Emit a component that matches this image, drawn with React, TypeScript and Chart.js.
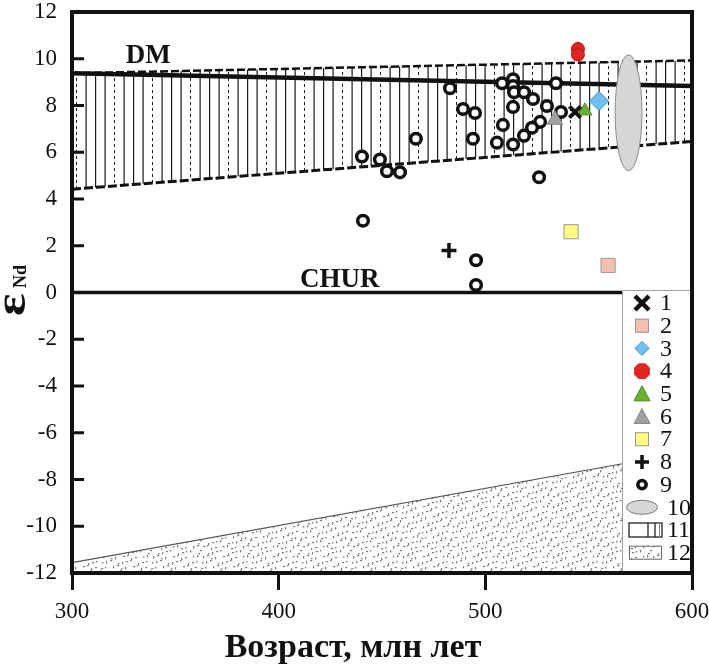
import React, { useEffect, useRef } from 'react';
import { Chart, registerables } from 'chart.js';

Chart.register(...registerables);

const W = 709;
const H = 671;

// Axes
const X_MIN = 300;
const X_MAX = 600;
const X_STEP = 100;
const Y_MIN = -12;
const Y_MAX = 12;
const Y_STEP = 2;

// Series 1..9 (age, Ma ; epsilon Nd)
const s1Age = [543.4];
const s1Eps = [7.72];
const s2Age = [559.4];
const s2Eps = [1.16];
const s3Age = [555.0];
const s3Eps = [8.19];
const s4Age = [544.8, 544.8];
const s4Eps = [10.42, 10.18];
const s5Age = [548.2];
const s5Eps = [7.77];
const s6Age = [533.7];
const s6Eps = [7.39];
const s7Age = [541.5];
const s7Eps = [2.6];
const s8Age = [482.4];
const s8Eps = [1.8];
const s9Age = [
  482.9, 489.2, 495.0, 466.4, 494.0, 508.1, 513.4, 513.4, 513.9, 518.7,
  523.1, 513.4, 529.8, 534.2, 536.6, 508.5, 526.5, 522.6, 518.7, 505.6,
  513.4, 526.0, 440.3, 449.0, 452.4, 458.7, 440.8, 495.5, 495.5,
];
const s9Eps = [
  8.74, 7.85, 7.68, 6.58, 6.58, 8.95, 9.12, 8.83, 8.57, 8.57,
  8.28, 7.94, 7.98, 8.95, 7.72, 7.17, 7.30, 7.05, 6.71, 6.41,
  6.33, 4.93, 5.82, 5.69, 5.19, 5.14, 3.07, 1.38, 0.32,
];

// Field 10 (ellipse)
const e10Age = 569.3;
const e10Eps = 7.69;
const e10HalfAge = 6.5;
const e10HalfEps = 2.48;

// DM line
const dmAge = [300, 600];
const dmEps = [9.38, 8.83];
// Field 11 boundaries
const f11Age = [300, 600];
const f11Upper = [9.38, 9.93];
const f11Lower = [4.42, 6.46];
// CHUR
const churAge = [300, 600];
const churEps = [0, 0];
// Field 12
const f12Age = [300, 600];
const f12Top = [-11.56, -6.79];

// Text labels
const dmLabel = { text: 'DM', age: 326, eps: 9.8 };
const churLabel = { text: 'CHUR', age: 410.3, eps: 0.25 };
const xTitle = 'Возраст, млн лет';
const legendLabels = ['1', '2', '3', '4', '5', '6', '7', '8', '9', '10', '11', '12'];

const SERIF = '"Liberation Serif", "Times New Roman", serif';

const zip = (a: number[], b: number[]) => a.map((x, i) => ({ x, y: b[i] }));

function makeHatch(ctx: CanvasRenderingContext2D) {
  const c = document.createElement('canvas');
  c.width = 38;
  c.height = 6;
  const g = c.getContext('2d')!;
  g.fillStyle = '#1a1a1a';
  [9.5, 19, 28.5].forEach((x) => g.fillRect(x, 0, 1.2, 6));
  g.fillRect(0, 0, 1, 3);
  return ctx.createPattern(c, 'repeat');
}

function makeStipple(ctx: CanvasRenderingContext2D) {
  const size = 50;
  const c = document.createElement('canvas');
  c.width = size;
  c.height = size;
  const g = c.getContext('2d')!;
  g.fillStyle = '#ffffff';
  g.fillRect(0, 0, size, size);
  g.fillStyle = '#7d7d7d';
  const cell = 5;
  for (let i = 0; i < size / cell; i++) {
    for (let j = 0; j < size / cell; j++) {
      const ox = (i * 7 + j * 3) % 4;
      const oy = (i * 3 + j * 5) % 4;
      const kind = (i * 5 + j * 7) % 3;
      if (kind === 0) g.fillRect(i * cell + ox, j * cell + oy, 2.2, 1.2);
      else if (kind === 1) g.fillRect(i * cell + ox, j * cell + oy, 1.2, 2.4);
      else g.fillRect(i * cell + ox, j * cell + oy, 1.4, 1.4);
    }
  }
  return ctx.createPattern(c, 'repeat');
}

export default function App() {
  const ref = useRef<HTMLCanvasElement | null>(null);

  useEffect(() => {
    const canvas = ref.current;
    if (!canvas) return;
    const ctx0 = canvas.getContext('2d')!;
    const hatch = makeHatch(ctx0);
    const stipple = makeStipple(ctx0);

    const pointDs = (label: string, ages: number[], eps: number[], style: any) => ({
      label,
      data: zip(ages, eps),
      showLine: false,
      order: 0,
      ...style,
    });

    const lineDs = (label: string, ages: number[], eps: number[], style: any) => ({
      label,
      data: zip(ages, eps),
      showLine: true,
      pointRadius: 0,
      tension: 0,
      ...style,
    });

    const decor = {
      id: 'decor',
      afterDatasetsDraw(chart: any) {
        const { ctx, scales } = chart;
        const xs = scales.x;
        const ys = scales.y;
        // ellipse (10)
        const cx = xs.getPixelForValue(e10Age);
        const cy = ys.getPixelForValue(e10Eps);
        const rx = Math.abs(xs.getPixelForValue(e10Age + e10HalfAge) - cx);
        const ry = Math.abs(ys.getPixelForValue(e10Eps + e10HalfEps) - cy);
        ctx.save();
        ctx.beginPath();
        ctx.ellipse(cx, cy, rx, ry, 0, 0, Math.PI * 2);
        ctx.fillStyle = '#d6d6d6';
        ctx.fill();
        ctx.lineWidth = 1;
        ctx.strokeStyle = '#8a8a8a';
        ctx.stroke();
        ctx.restore();
      },
      afterDraw(chart: any) {
        const { ctx, chartArea, scales } = chart;
        const xs = scales.x;
        const ys = scales.y;
        const { left, right, top, bottom } = chartArea;
        ctx.save();

        // labels DM, CHUR
        ctx.fillStyle = '#111';
        ctx.font = `bold 27px ${SERIF}`;
        ctx.textBaseline = 'alphabetic';
        ctx.textAlign = 'left';
        ctx.fillText(dmLabel.text, xs.getPixelForValue(dmLabel.age), ys.getPixelForValue(dmLabel.eps));
        ctx.fillText(churLabel.text, xs.getPixelForValue(churLabel.age), ys.getPixelForValue(churLabel.eps));

        // legend
        const lx = right - 70;
        const ly = 290;
        ctx.fillStyle = '#ffffff';
        ctx.fillRect(lx, ly, right - lx, bottom - ly);
        ctx.strokeStyle = '#a0a0a0';
        ctx.lineWidth = 1;
        ctx.beginPath();
        ctx.moveTo(lx + 0.5, bottom);
        ctx.lineTo(lx + 0.5, ly + 0.5);
        ctx.lineTo(right, ly + 0.5);
        ctx.stroke();

        const mx = lx + 20;
        const rowY = (i: number) => ly + 13 + i * 22.7;
        legendLabels.forEach((lab, i) => {
          const y = rowY(i);
          ctx.save();
          switch (i) {
            case 0: {
              ctx.strokeStyle = '#111';
              ctx.lineWidth = 4.5;
              ctx.lineCap = 'butt';
              ctx.beginPath();
              ctx.moveTo(mx - 7, y - 7);
              ctx.lineTo(mx + 7, y + 7);
              ctx.moveTo(mx + 7, y - 7);
              ctx.lineTo(mx - 7, y + 7);
              ctx.stroke();
              break;
            }
            case 1:
            case 6: {
              ctx.fillStyle = i === 1 ? '#f7bfae' : '#fdfb80';
              ctx.strokeStyle = '#9a9a9a';
              ctx.lineWidth = 1;
              ctx.fillRect(mx - 7, y - 7, 14, 14);
              ctx.strokeRect(mx - 7 + 0.5, y - 7 + 0.5, 13, 13);
              break;
            }
            case 2: {
              ctx.fillStyle = '#6ec1ef';
              ctx.strokeStyle = '#3d8fc5';
              ctx.lineWidth = 1;
              ctx.beginPath();
              ctx.moveTo(mx - 7, y);
              ctx.lineTo(mx, y - 7);
              ctx.lineTo(mx + 7, y);
              ctx.lineTo(mx, y + 7);
              ctx.closePath();
              ctx.fill();
              ctx.stroke();
              break;
            }
            case 3: {
              ctx.fillStyle = '#e32522';
              ctx.beginPath();
              for (let k = 0; k < 8; k++) {
                const a = Math.PI / 8 + (k * Math.PI) / 4;
                const px = mx + Math.cos(a) * 8.6;
                const py = y + Math.sin(a) * 8.6;
                if (k === 0) ctx.moveTo(px, py);
                else ctx.lineTo(px, py);
              }
              ctx.closePath();
              ctx.fill();
              break;
            }
            case 4:
            case 5: {
              ctx.fillStyle = i === 4 ? '#66b32e' : '#a0a0a0';
              ctx.strokeStyle = i === 4 ? '#4a8a20' : '#8a8a8a';
              ctx.lineWidth = 1;
              ctx.beginPath();
              ctx.moveTo(mx, y - 8);
              ctx.lineTo(mx + 8, y + 7);
              ctx.lineTo(mx - 8, y + 7);
              ctx.closePath();
              ctx.fill();
              ctx.stroke();
              break;
            }
            case 7: {
              ctx.strokeStyle = '#111';
              ctx.lineWidth = 3.5;
              ctx.beginPath();
              ctx.moveTo(mx - 7, y);
              ctx.lineTo(mx + 7, y);
              ctx.moveTo(mx, y - 7);
              ctx.lineTo(mx, y + 7);
              ctx.stroke();
              break;
            }
            case 8: {
              ctx.strokeStyle = '#111';
              ctx.lineWidth = 3.5;
              ctx.fillStyle = '#fff';
              ctx.beginPath();
              ctx.arc(mx, y, 4.2, 0, Math.PI * 2);
              ctx.fill();
              ctx.stroke();
              break;
            }
            case 9: {
              ctx.fillStyle = '#d6d6d6';
              ctx.strokeStyle = '#7a7a7a';
              ctx.lineWidth = 1;
              ctx.beginPath();
              ctx.ellipse(mx, y, 15.5, 7, 0, 0, Math.PI * 2);
              ctx.fill();
              ctx.stroke();
              break;
            }
            case 10: {
              ctx.fillStyle = '#fff';
              ctx.fillRect(lx + 7, y - 7, 33, 14);
              ctx.strokeStyle = '#222';
              ctx.lineWidth = 1.3;
              ctx.strokeRect(lx + 7, y - 7, 33, 14);
              ctx.beginPath();
              ctx.moveTo(lx + 26, y - 7);
              ctx.lineTo(lx + 26, y + 7);
              ctx.moveTo(lx + 33, y - 7);
              ctx.lineTo(lx + 33, y + 7);
              ctx.stroke();
              ctx.strokeStyle = '#888';
              ctx.lineWidth = 1;
              ctx.beginPath();
              ctx.moveTo(lx + 37.5, y - 7);
              ctx.lineTo(lx + 37.5, y + 7);
              ctx.stroke();
              break;
            }
            case 11: {
              ctx.fillStyle = stipple || '#eee';
              ctx.fillRect(lx + 7, y - 7, 33, 14);
              ctx.strokeStyle = '#666';
              ctx.lineWidth = 1;
              ctx.strokeRect(lx + 7.5, y - 6.5, 32, 13);
              break;
            }
          }
          ctx.restore();
          ctx.fillStyle = '#111';
          ctx.font = `24px ${SERIF}`;
          ctx.textAlign = 'left';
          ctx.textBaseline = 'middle';
          ctx.fillText(lab, i >= 9 ? lx + 45 : lx + 38, y + 1);
        });

        // inner y ticks
        ctx.strokeStyle = '#111';
        ctx.lineWidth = 3;
        ys.ticks.forEach((t: any) => {
          const py = ys.getPixelForValue(t.value);
          ctx.beginPath();
          ctx.moveTo(left, py);
          ctx.lineTo(left + 12, py);
          ctx.stroke();
        });

        // frame
        ctx.strokeStyle = '#111';
        ctx.lineWidth = 4;
        ctx.strokeRect(left, top, right - left, bottom - top);

        // x title
        ctx.fillStyle = '#111';
        ctx.font = `bold 34px ${SERIF}`;
        ctx.textAlign = 'center';
        ctx.textBaseline = 'alphabetic';
        ctx.fillText(xTitle, 353, 657);

        // y title: epsilon Nd, rotated
        ctx.translate(25, 316);
        ctx.rotate(-Math.PI / 2);
        ctx.textAlign = 'left';
        ctx.save();
        ctx.scale(1.2, 1);
        ctx.font = `bold 44px ${SERIF}`;
        ctx.fillText('ε', 0, 0);
        ctx.restore();
        ctx.font = `bold 18px ${SERIF}`;
        ctx.fillText('Nd', 28, 1);
        ctx.restore();
      },
    };

    const zeroPad = (s: any) => {
      s.paddingTop = 0;
      s.paddingBottom = 0;
      s.paddingLeft = 0;
      s.paddingRight = 0;
    };

    const chart = new Chart(canvas, {
      type: 'line',
      data: {
        datasets: [
          pointDs('1', s1Age, s1Eps, { pointStyle: 'crossRot', pointRadius: 8, borderColor: '#111', borderWidth: 4, backgroundColor: '#111' }),
          pointDs('2', s2Age, s2Eps, { pointStyle: 'rect', pointRadius: 10, backgroundColor: '#f7bfae', borderColor: '#9a9a9a', borderWidth: 1 }),
          pointDs('3', s3Age, s3Eps, { pointStyle: 'rectRot', pointRadius: 9.5, backgroundColor: '#6ec1ef', borderColor: '#3d8fc5', borderWidth: 1 }),
          pointDs('4', s4Age, s4Eps, { pointStyle: 'circle', pointRadius: 6.5, backgroundColor: '#e32522', borderColor: '#b01515', borderWidth: 1 }),
          pointDs('5', s5Age, s5Eps, { pointStyle: 'triangle', pointRadius: 8, backgroundColor: '#66b32e', borderColor: '#4a8a20', borderWidth: 1 }),
          pointDs('6', s6Age, s6Eps, { pointStyle: 'triangle', pointRadius: 9, backgroundColor: '#a0a0a0', borderColor: '#8a8a8a', borderWidth: 1 }),
          pointDs('7', s7Age, s7Eps, { pointStyle: 'rect', pointRadius: 10, backgroundColor: '#fdfb80', borderColor: '#9a9a9a', borderWidth: 1 }),
          pointDs('8', s8Age, s8Eps, { pointStyle: 'cross', pointRadius: 7.5, borderColor: '#111', borderWidth: 3.5, backgroundColor: '#111' }),
          pointDs('9', s9Age, s9Eps, { pointStyle: 'circle', pointRadius: 5.3, backgroundColor: '#ffffff', borderColor: '#111', borderWidth: 3.5 }),
          lineDs('DM', dmAge, dmEps, { order: 2, borderColor: '#111', borderWidth: 4.5, fill: false }),
          lineDs('11 upper', f11Age, f11Upper, { order: 4, borderColor: '#111', borderWidth: 2.5, borderDash: [8, 3], fill: '+1', backgroundColor: hatch }),
          lineDs('11 lower', f11Age, f11Lower, { order: 3, borderColor: '#111', borderWidth: 3, borderDash: [9, 3], fill: false }),
          lineDs('CHUR', churAge, churEps, { order: 2, borderColor: '#111', borderWidth: 3.5, fill: false }),
          lineDs('12', f12Age, f12Top, { order: 6, borderColor: '#555', borderWidth: 1.2, fill: 'start', backgroundColor: stipple }),
        ] as any,
      },
      options: {
        animation: false,
        responsive: false,
        events: [],
        layout: { padding: { top: 5, right: 17, left: 0, bottom: 0 } },
        plugins: {
          legend: { display: false },
          tooltip: { enabled: false },
          filler: { propagate: false },
        },
        scales: {
          x: {
            type: 'linear',
            min: X_MIN,
            max: X_MAX,
            afterFit: (s: any) => {
              s.height = H - 573;
              zeroPad(s);
            },
            ticks: {
              stepSize: X_STEP,
              color: '#111',
              padding: 8,
              font: { family: SERIF, size: 23 },
              maxRotation: 0,
            },
            grid: {
              drawOnChartArea: false,
              drawTicks: true,
              tickLength: 17,
              tickWidth: 3,
              tickColor: '#111',
            },
            border: { display: false },
          },
          y: {
            type: 'linear',
            min: Y_MIN,
            max: Y_MAX,
            afterFit: (s: any) => {
              s.width = 72;
              zeroPad(s);
            },
            ticks: {
              stepSize: Y_STEP,
              color: '#111',
              padding: 15,
              font: { family: SERIF, size: 23 },
            },
            grid: { display: false, drawTicks: false },
            border: { display: false },
          },
        },
      } as any,
      plugins: [decor],
    });

    return () => chart.destroy();
  }, []);

  return (
    <div style={{ position: 'fixed', left: 0, top: 0, width: W, height: H, background: '#fff' }}>
      <canvas ref={ref} width={W} height={H} style={{ display: 'block', width: W, height: H }} />
    </div>
  );
}
